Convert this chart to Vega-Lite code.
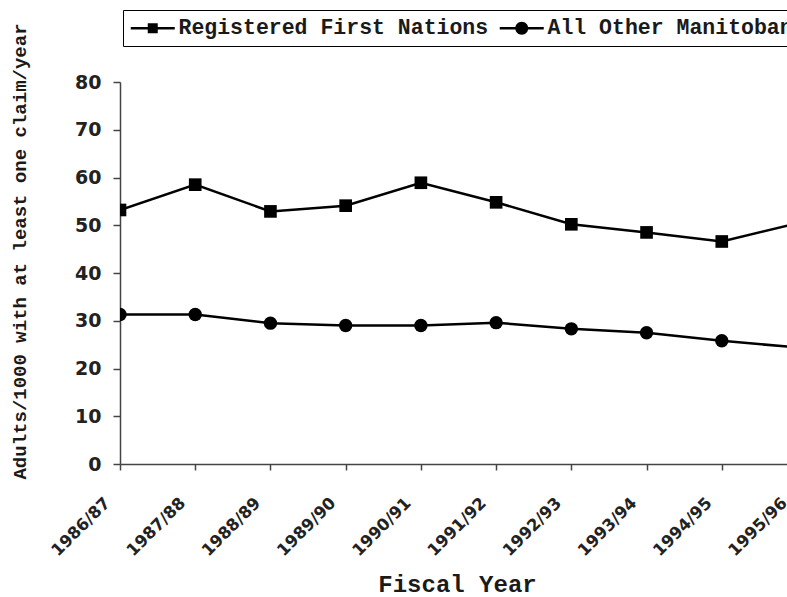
{
  "$schema": "https://vega.github.io/schema/vega-lite/v6.json",
  "width": 667,
  "height": 382,
  "autosize": {"type": "none"},
  "padding": {"left": 120, "top": 82, "right": 0, "bottom": 133},
  "background": "white",
  "data": {
    "values": [
      {"year": "1986/87", "group": "Registered First Nations", "rate": 53.2},
      {"year": "1987/88", "group": "Registered First Nations", "rate": 58.5},
      {"year": "1988/89", "group": "Registered First Nations", "rate": 52.9},
      {"year": "1989/90", "group": "Registered First Nations", "rate": 54.1},
      {"year": "1990/91", "group": "Registered First Nations", "rate": 58.9},
      {"year": "1991/92", "group": "Registered First Nations", "rate": 54.8},
      {"year": "1992/93", "group": "Registered First Nations", "rate": 50.2},
      {"year": "1993/94", "group": "Registered First Nations", "rate": 48.5},
      {"year": "1994/95", "group": "Registered First Nations", "rate": 46.6},
      {"year": "1995/96", "group": "Registered First Nations", "rate": 50.4},
      {"year": "1986/87", "group": "All Other Manitobans", "rate": 31.3},
      {"year": "1987/88", "group": "All Other Manitobans", "rate": 31.3},
      {"year": "1988/89", "group": "All Other Manitobans", "rate": 29.5},
      {"year": "1989/90", "group": "All Other Manitobans", "rate": 29.0},
      {"year": "1990/91", "group": "All Other Manitobans", "rate": 29.0},
      {"year": "1991/92", "group": "All Other Manitobans", "rate": 29.6},
      {"year": "1992/93", "group": "All Other Manitobans", "rate": 28.3},
      {"year": "1993/94", "group": "All Other Manitobans", "rate": 27.5},
      {"year": "1994/95", "group": "All Other Manitobans", "rate": 25.8},
      {"year": "1995/96", "group": "All Other Manitobans", "rate": 24.4}
    ]
  },
  "encoding": {
    "x": {
      "field": "year",
      "type": "ordinal",
      "sort": null,
      "scale": {"type": "point", "range": [0, 677], "padding": 0},
      "axis": {
        "title": "Fiscal Year",
        "titleFont": "Liberation Mono",
        "titleFontSize": 24,
        "titleFontWeight": "bold",
        "titleColor": "#1a1a1a",
        "titleX": 337,
        "titleY": 127,
        "titleAlign": "center",
        "titleBaseline": "alphabetic",
        "labelAngle": -45,
        "labelAlign": "right",
        "labelBaseline": "middle",
        "labelPadding": 30,
        "labelOffset": -13,
        "labelFont": "DejaVu Sans",
        "labelFontSize": 16.5,
        "labelFontWeight": "bold",
        "labelColor": "#222",
        "labelOverlap": false,
        "labelBound": false,
        "tickSize": 6,
        "tickColor": "#444",
        "tickWidth": 1.5,
        "domainColor": "#444",
        "domainWidth": 1.5,
        "grid": false
      }
    },
    "y": {
      "field": "rate",
      "type": "quantitative",
      "scale": {"domain": [0, 80]},
      "axis": {
        "title": "Adults/1000 with at least one claim/year",
        "titleFont": "Liberation Mono",
        "titleFontSize": 19,
        "titleFontWeight": "bold",
        "titleColor": "#1a1a1a",
        "titleAngle": -90,
        "titleX": -101,
        "titleY": 169,
        "titleAlign": "center",
        "titleBaseline": "middle",
        "values": [0, 10, 20, 30, 40, 50, 60, 70, 80],
        "labelFont": "DejaVu Sans",
        "labelFontSize": 19,
        "labelFontWeight": "bold",
        "labelColor": "#222",
        "labelPadding": 12,
        "tickSize": 7,
        "tickColor": "#444",
        "tickWidth": 1.5,
        "domainColor": "#444",
        "domainWidth": 1.5,
        "grid": false
      }
    }
  },
  "layer": [
    {
      "mark": {"type": "line", "color": "black", "strokeWidth": 2.5, "clip": true},
      "encoding": {"detail": {"field": "group", "type": "nominal"}}
    },
    {
      "transform": [{"filter": "datum.group === 'Registered First Nations'"}],
      "mark": {"type": "point", "shape": "square", "filled": true, "color": "black", "opacity": 1, "size": 160, "clip": true},
      "encoding": {}
    },
    {
      "transform": [{"filter": "datum.group === 'All Other Manitobans'"}],
      "mark": {"type": "point", "shape": "circle", "filled": true, "color": "black", "opacity": 1, "size": 180, "clip": true},
      "encoding": {}
    },
    {
      "mark": {"type": "point", "filled": true, "color": "black", "opacity": 0, "size": 100, "clip": true},
      "encoding": {
        "shape": {
          "field": "group",
          "type": "nominal",
          "scale": {
            "domain": ["Registered First Nations", "All Other Manitobans"],
            "range": [
              "M-4.4,-0.25H4.4V0.25H-4.4ZM-1,-1H1V1H-1Z",
              "M-4.4,-0.25H4.4V0.25H-4.4ZM-1.3,0A1.3,1.3,0,1,1,1.3,0A1.3,1.3,0,1,1,-1.3,0Z"
            ]
          },
          "legend": {
            "title": null,
            "orient": "none",
            "legendX": 3,
            "legendY": -72,
            "direction": "horizontal",
            "strokeColor": "black",
            "fillColor": "white",
            "padding": 7,
            "columnPadding": 7,
            "symbolSize": 100,
            "symbolOffset": 12,
            "labelOffset": 15,
            "symbolOpacity": 1,
            "symbolFillColor": "black",
            "labelFont": "Liberation Mono",
            "labelFontSize": 21.5,
            "labelFontWeight": "bold",
            "labelColor": "#1a1a1a",
            "labelLimit": 0,
            "encode": {
              "legend": {
                "update": {"strokeWidth": {"value": 1.5}}
              }
            }
          }
        }
      }
    }
  ],
  "config": {
    "view": {"stroke": null}
  }
}
